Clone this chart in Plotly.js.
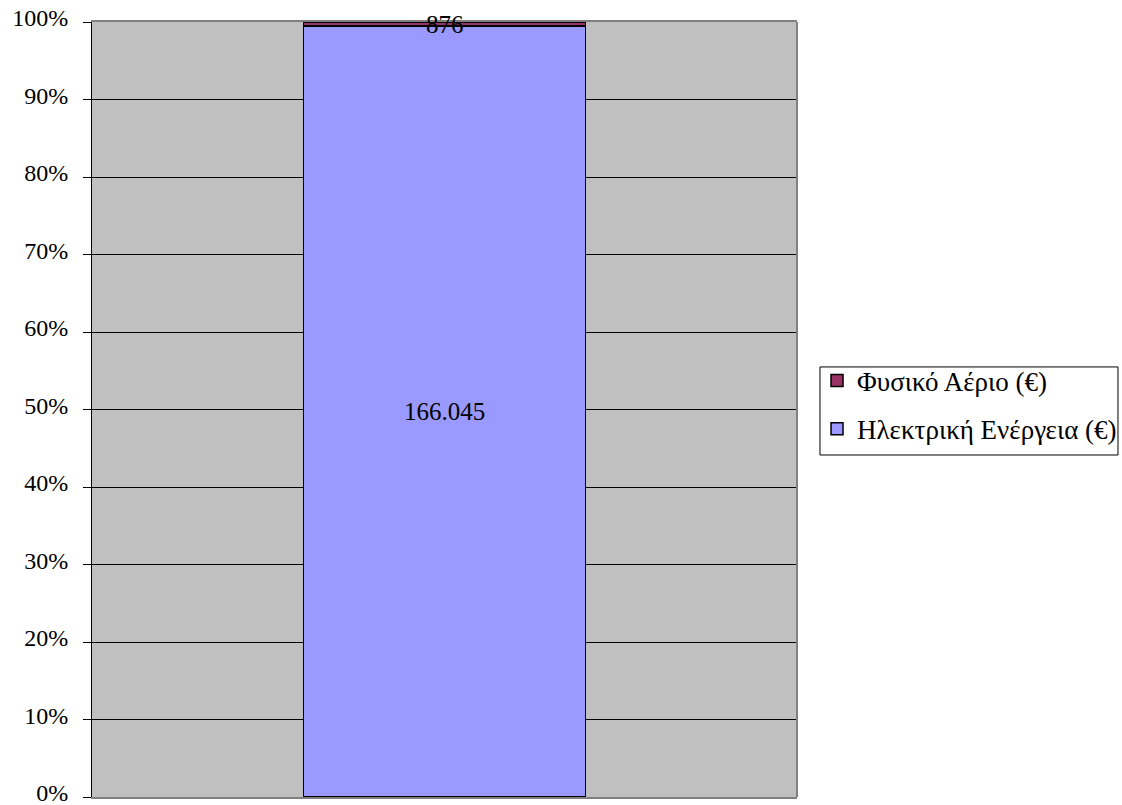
<!DOCTYPE html>
<html>
<head>
<meta charset="utf-8">
<script src="https://cdn.plot.ly/plotly-3.0.1.min.js"></script>
<style>
  html, body { margin: 0; padding: 0; background: #ffffff; }
  #chart { width: 1122px; height: 805px; }
</style>
</head>
<body>
<div id="chart"></div>
<script>
// Energy cost breakdown, single stacked column shown as share of 100%
const categories = [''];
const electricityName = 'Ηλεκτρική Ενέργεια (€)';
const gasName = 'Φυσικό Αέριο (€)';
const electricityCost = [166045];
const gasCost = [876];
const yTickValues = [0, 10, 20, 30, 40, 50, 60, 70, 80, 90, 100];
const yTickLabels = ['0%', '10%', '20%', '30%', '40%', '50%', '60%', '70%', '80%', '90%', '100%'];

// Greek number style: dot as thousands separator
function fmt(v) {
  return String(Math.round(v)).replace(/\B(?=(\d{3})+(?!\d))/g, '.');
}

const serif = "'Liberation Serif', 'Times New Roman', serif";

// share of the top segment, used to centre its value label on it
const totals = electricityCost.map((v, i) => v + gasCost[i]);
const gasMid = gasCost.map((v, i) => 100 * (electricityCost[i] + v / 2) / totals[i]);

const traces = [
  {
    type: 'bar',
    name: electricityName,
    x: categories,
    y: electricityCost,
    width: 0.4,
    legendgroup: 'elec',
    legendrank: 2,
    marker: { color: '#9999FF', line: { color: '#000000', width: 1.5 } },
    text: electricityCost.map(fmt),
    textposition: 'inside',
    insidetextanchor: 'middle',
    textangle: 0,
    constraintext: 'none',
    textfont: { family: serif, size: 25, color: '#000000' },
    hoverinfo: 'none'
  },
  {
    type: 'bar',
    name: gasName,
    x: categories,
    y: gasCost,
    width: 0.4,
    legendgroup: 'gas',
    legendrank: 1,
    marker: { color: '#993366', line: { color: '#000000', width: 1.5 } },
    textposition: 'none',
    hoverinfo: 'none'
  }
];

const layout = {
  width: 1122,
  height: 805,
  barmode: 'stack',
  barnorm: 'percent',
  separators: ',.',
  paper_bgcolor: '#ffffff',
  plot_bgcolor: '#C0C0C0',
  margin: { l: 92, r: 325, t: 22, b: 8, autoexpand: false },
  font: { family: serif, size: 24, color: '#000000' },
  showlegend: true,
  legend: {
    x: 1.0284, xanchor: 'left',
    y: 0.5683, yanchor: 'top',
    traceorder: 'grouped',
    tracegroupgap: 10,
    borderwidth: 0,
    bgcolor: 'rgba(0,0,0,0)',
    font: { family: serif, size: 27, color: '#000000' }
  },
  xaxis: {
    range: [-0.5, 0.5],
    showticklabels: false,
    ticks: '',
    showgrid: false,
    zeroline: false,
    showline: true,
    linecolor: '#808080',
    linewidth: 2,
    mirror: true,
    fixedrange: true
  },
  yaxis: {
    range: [0, 100],
    tickvals: yTickValues,
    ticktext: yTickLabels,
    ticks: 'outside',
    ticklen: 8,
    tickcolor: '#000000',
    ticklabelstandoff: 10,
    ticklabelshift: -4,
    ticklabeloverflow: 'allow',
    tickfont: { family: serif, size: 24, color: '#000000' },
    showgrid: true,
    gridcolor: '#000000',
    gridwidth: 1,
    zeroline: false,
    showline: true,
    linecolor: '#000000',
    linewidth: 1,
    fixedrange: true
  },
  annotations: gasCost.map((v, i) => ({
    x: categories[i],
    y: gasMid[i],
    xref: 'x',
    yref: 'y',
    text: fmt(v),
    showarrow: false,
    xanchor: 'center',
    yanchor: 'middle',
    font: { family: serif, size: 25, color: '#000000' }
  })),
  shapes: [
    // right edge of the plot frame
    { type: 'line', xref: 'paper', yref: 'paper', x0: 1, x1: 1, y0: 0, y1: 1,
      line: { color: '#808080', width: 2 } },
    // legend frame
    { type: 'rect', xref: 'paper', yref: 'paper',
      x0: 1.0326, x1: 1.4553, y0: 0.4413, y1: 0.5549,
      line: { color: '#000000', width: 1 }, fillcolor: 'rgba(0,0,0,0)' }
  ]
};

Plotly.newPlot('chart', traces, layout, { staticPlot: true, displayModeBar: false });
</script>
</body>
</html>
